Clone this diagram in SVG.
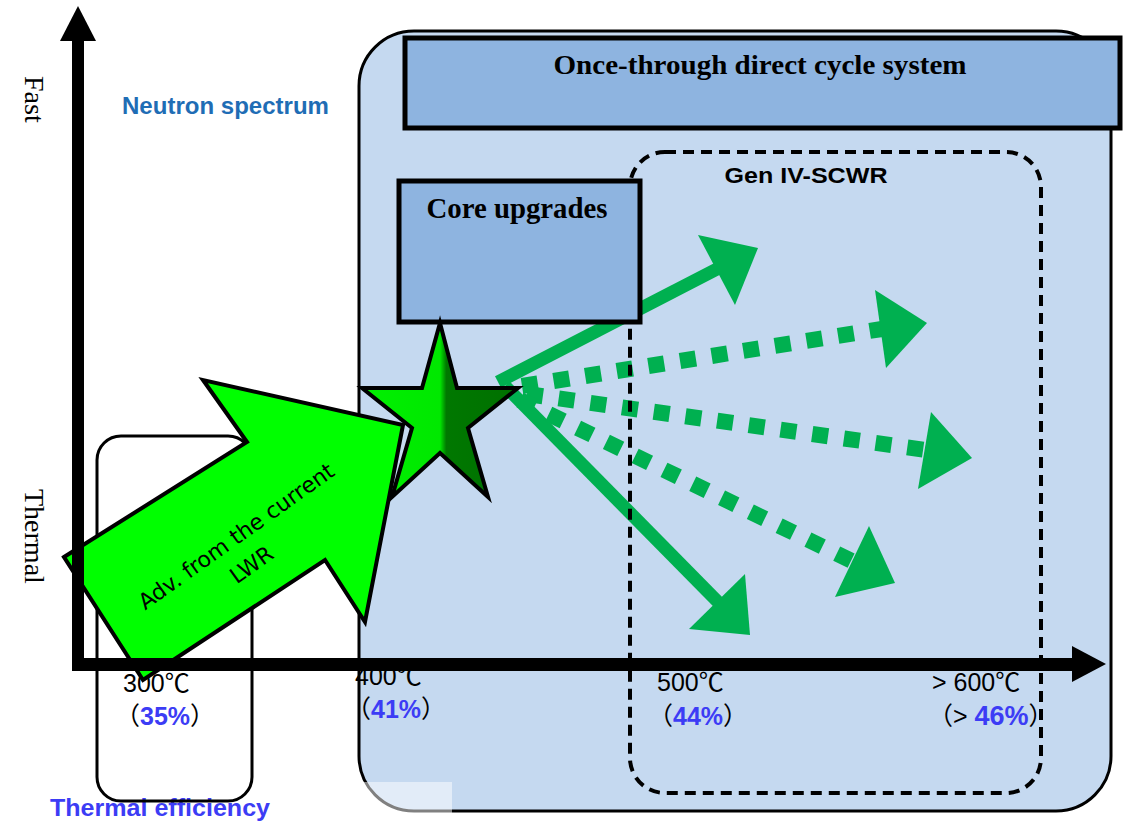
<svg xmlns="http://www.w3.org/2000/svg" width="1128" height="822" viewBox="0 0 1128 822">
<defs>
<style>
.serifb{font-family:"Liberation Serif","Times New Roman",serif;font-weight:bold;fill:#000}
.sansb{font-family:"Liberation Sans","Open Sans",sans-serif;font-weight:bold}
.lbl{font-family:"Liberation Sans","Noto Sans CJK SC",sans-serif;font-size:25px;fill:#000}
.pct{font-weight:bold;fill:#3c3cf5}
.solid{stroke:#00b050;stroke-width:13;fill:none}
.dot{stroke:#00b050;stroke-width:16;stroke-dasharray:16 16;fill:none}
.head{fill:#00b050}
</style>
<linearGradient id="starg" gradientUnits="userSpaceOnUse" x1="362" y1="0" x2="518" y2="0">
<stop offset="0" stop-color="#00f000"/>
<stop offset="0.5" stop-color="#00e800"/>
<stop offset="0.54" stop-color="#007800"/>
<stop offset="1" stop-color="#007000"/>
</linearGradient>
</defs>

<g id="once-through">
<rect x="359" y="31" width="752" height="780" rx="55" ry="55" fill="#c5d9f0" stroke="#000" stroke-width="3"/>
<rect x="359" y="782" width="93" height="32" fill="#fff" fill-opacity="0.5"/>
<rect x="405" y="38" width="715" height="90" fill="#8eb4e0" stroke="#000" stroke-width="5"/>
<text class="serifb" x="760" y="74" font-size="28" text-anchor="middle" textLength="413" lengthAdjust="spacingAndGlyphs">Once-through direct cycle system</text>
</g>

<g id="connectors">
<line class="solid" x1="498" y1="382" x2="717" y2="269"/>
<polygon class="head" points="698,235 758,248 735,305"/>
<line class="solid" x1="505" y1="386" x2="718" y2="602"/>
<polygon class="head" points="745,574 750,635 689,629"/>
<line class="dot" x1="522" y1="386" x2="882" y2="329"/>
<polygon class="head" points="875,290 927,323 886,368"/>
<line class="dot" x1="527" y1="394" x2="926" y2="450"/>
<polygon class="head" points="931,412 972,458 918,489"/>
<line class="dot" x1="520" y1="400" x2="854" y2="562"/>
<polygon class="head" points="869,526 895,583 835,597"/>
</g>

<g id="gen4">
<rect x="630" y="152" width="411" height="641" rx="35" ry="35" fill="none" stroke="#000" stroke-width="4" stroke-dasharray="11 7"/>
<text class="sansb" x="806" y="183" font-size="22" text-anchor="middle" fill="#000" textLength="163" lengthAdjust="spacingAndGlyphs">Gen IV-SCWR</text>
</g>

<g id="core-upgrades">
<rect x="399" y="181" width="241" height="141" fill="#8eb4e0" stroke="#000" stroke-width="5"/>
<text class="serifb" x="517" y="218" font-size="29" text-anchor="middle" textLength="181" lengthAdjust="spacingAndGlyphs">Core upgrades</text>
</g>

<g id="star">
<polygon points="440,323 457,388 518,388 468,428 488,497 440,453 392,497 412,428 362,388 422,388" fill="url(#starg)" stroke="#000" stroke-width="4" stroke-linejoin="miter"/>
</g>

<g id="labels">
<text class="sansb" x="122" y="114" font-size="24" fill="#1f6db5" textLength="207" lengthAdjust="spacingAndGlyphs">Neutron spectrum</text>
<text font-family="Liberation Serif, serif" font-size="28" transform="translate(25,76) rotate(90)">Fast</text>
<text font-family="Liberation Serif, serif" font-size="28" transform="translate(25,489) rotate(90)">Thermal</text>
<text class="sansb" x="50" y="816" font-size="24" fill="#3c3cf5" textLength="220" lengthAdjust="spacingAndGlyphs">Thermal efficiency</text>
<text class="lbl" x="123" y="692">300℃</text>
<text class="lbl" x="115" y="725">（<tspan class="pct">35%</tspan>）</text>
<text class="lbl" x="355" y="685">400℃</text>
<text class="lbl" x="346" y="718">（<tspan class="pct">41%</tspan>）</text>
<text class="lbl" x="657" y="691">500℃</text>
<text class="lbl" x="648" y="725">（<tspan class="pct">44%</tspan>）</text>
<text class="lbl" x="932" y="691">&gt; 600℃</text>
<text class="lbl" x="928" y="725">（&gt; <tspan class="pct" font-size="27">46%</tspan>）</text>
</g>

<g id="box-300">
<rect x="97" y="436" width="155" height="365" rx="24" ry="24" fill="none" stroke="#000" stroke-width="3"/>
</g>

<g id="adv-arrow">
<polygon points="64,557 247,442 203,380 403,425 365,622 325,560 143,680" fill="#00ff00" stroke="#000" stroke-width="4" stroke-linejoin="miter"/>
<g transform="translate(236,536) rotate(-35.5)" font-family="DejaVu Sans, Verdana, sans-serif" font-size="22" fill="#000" text-anchor="middle">
<text x="0" y="8">Adv. from the current</text>
<text x="-4" y="40">LWR</text>
</g>
</g>

<g id="axes">
<rect x="72" y="41" width="12" height="630"/>
<polygon points="78,6 96,41 60,41"/>
<rect x="72" y="658" width="1002" height="13"/>
<polygon points="1106,664 1072,646 1072,682"/>
</g>
</svg>
